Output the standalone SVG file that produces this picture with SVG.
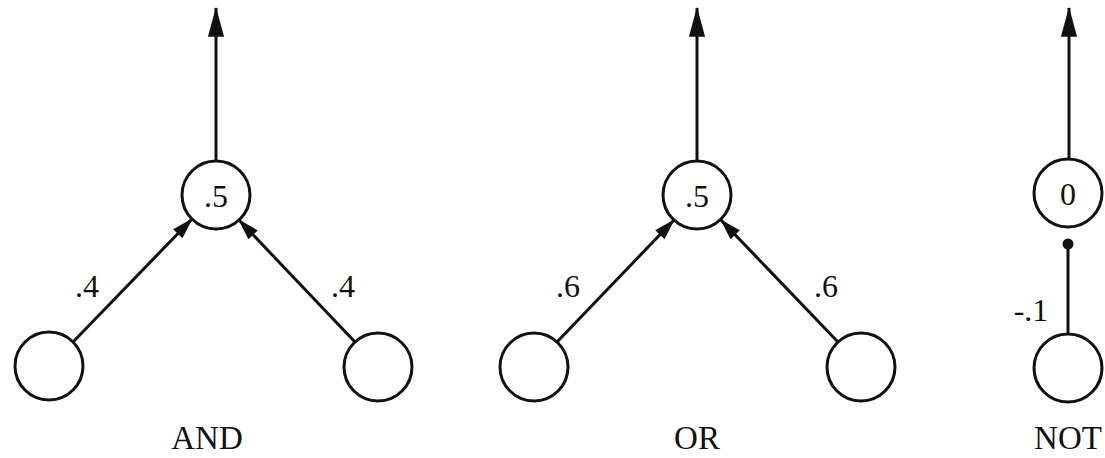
<svg xmlns="http://www.w3.org/2000/svg" width="1105" height="458" viewBox="0 0 1105 458">
<style>
.node{fill:#fff;stroke:#111;stroke-width:3}
.edge{stroke:#111;stroke-width:3;fill:none}
.lbl{font-family:"Liberation Serif","Times New Roman",serif;font-size:32px;fill:#111;text-anchor:middle}
.title{font-family:"Liberation Serif","Times New Roman",serif;font-size:33px;fill:#111;text-anchor:middle}
</style>
<defs>
<marker id="big" markerUnits="userSpaceOnUse" markerWidth="30" markerHeight="20" viewBox="0 0 26 16" refX="25" refY="8" orient="auto">
<path d="M0,1 L26,8 L0,15 Z" fill="#111"/>
</marker>
<marker id="small" markerUnits="userSpaceOnUse" markerWidth="22" markerHeight="14" viewBox="0 0 20 13" refX="19" refY="6.5" orient="auto">
<path d="M0,0.5 L20,6.5 L0,12.5 Z" fill="#111"/>
</marker>
<marker id="dot" markerUnits="userSpaceOnUse" markerWidth="14" markerHeight="14" viewBox="0 0 14 14" refX="7" refY="7" orient="auto">
<circle cx="7" cy="7" r="5.5" fill="#111"/>
</marker>
</defs>
<rect width="1105" height="458" fill="#fff"/>
<g id="connectors">
<line class="edge" x1="216" y1="161" x2="216" y2="8" marker-end="url(#big)"/>
<line class="edge" x1="73" y1="342" x2="192" y2="219" marker-end="url(#small)"/>
<line class="edge" x1="355" y1="342" x2="239" y2="220" marker-end="url(#small)"/>
<line class="edge" x1="697" y1="161" x2="697" y2="8" marker-end="url(#big)"/>
<line class="edge" x1="557" y1="342" x2="674" y2="220" marker-end="url(#small)"/>
<line class="edge" x1="838" y1="342" x2="721" y2="220" marker-end="url(#small)"/>
<line class="edge" x1="1069" y1="159" x2="1069" y2="8" marker-end="url(#big)"/>
<line class="edge" x1="1068" y1="334" x2="1068" y2="244" marker-end="url(#dot)"/>
</g>
<g id="and-out"><circle class="node" cx="216" cy="195" r="34"/><text class="lbl" x="216" y="207">.5</text></g>
<g id="and-in1"><circle class="node" cx="49" cy="366" r="34"/></g>
<g id="and-in2"><circle class="node" cx="378" cy="367" r="34"/></g>
<g id="or-out"><circle class="node" cx="697" cy="195" r="34"/><text class="lbl" x="697" y="207">.5</text></g>
<g id="or-in1"><circle class="node" cx="534" cy="367" r="34"/></g>
<g id="or-in2"><circle class="node" cx="861" cy="367" r="34"/></g>
<g id="not-out"><circle class="node" cx="1068" cy="193" r="34"/><text class="lbl" x="1068" y="205">0</text></g>
<g id="not-in"><circle class="node" cx="1068" cy="368" r="34"/></g>
<g id="labels">
<text class="lbl" x="87" y="297">.4</text>
<text class="lbl" x="343" y="297">.4</text>
<text class="lbl" x="568" y="297">.6</text>
<text class="lbl" x="826" y="297">.6</text>
<text class="lbl" x="1031" y="321">-.1</text>
<text class="title" x="207" y="449">AND</text>
<text class="title" x="697" y="449">OR</text>
<text class="title" x="1068" y="449">NOT</text>
</g>
</svg>
